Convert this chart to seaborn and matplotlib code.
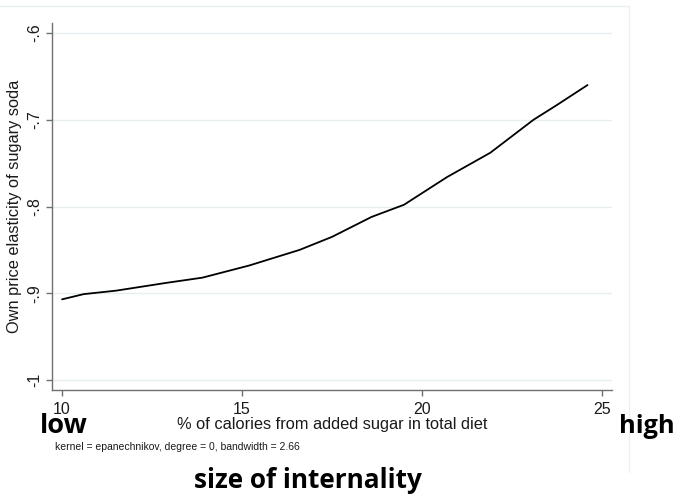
import matplotlib
matplotlib.use("Agg")
import matplotlib.pyplot as plt
from matplotlib.lines import Line2D
import seaborn as sns

# % of calories from added sugar vs. own price elasticity (lpoly fit)
sugar_pct = [10.0, 10.6, 11.5, 12.9, 13.9, 15.2, 16.6, 17.5, 18.6, 19.5, 20.7, 21.9, 23.1, 23.75, 24.6]
elasticity = [-0.907, -0.901, -0.897, -0.888, -0.882, -0.868, -0.850, -0.835, -0.812,
              -0.798, -0.766, -0.738, -0.700, -0.683, -0.660]
x_ticks = [10, 15, 20, 25]
y_ticks = [-1.0, -0.9, -0.8, -0.7, -0.6]
y_tick_labels = ["-1", "-.9", "-.8", "-.7", "-.6"]

sns.set_style("white")
plt.rcParams["font.family"] = ["Liberation Sans", "DejaVu Sans"]

W, H = 676, 495
fig = plt.figure(figsize=(W / 100, H / 100), dpi=100)
ax = fig.add_axes([52 / W, 1 - 390 / H, (612 - 52) / W, (390 - 23) / H])

sns.lineplot(x=sugar_pct, y=elasticity, ax=ax, color="black", linewidth=1.3, sort=False)

ax.set_xlim(9.72, 25.28)
ax.set_ylim(-1.0115, -0.5885)
ax.set_xticks(x_ticks)
ax.set_yticks(y_ticks)
ax.set_yticklabels(y_tick_labels, rotation=90, va="center")
for y in y_ticks:
    ax.axhline(y, color="#e6eef0", linewidth=1.0, zorder=0)

for side in ["top", "right"]:
    ax.spines[side].set_visible(False)
for side in ["left", "bottom"]:
    ax.spines[side].set_color("#707070")
    ax.spines[side].set_linewidth(1.0)
ax.tick_params(axis="x", direction="out", length=4, width=1, color="#707070",
               pad=5, labelsize=11.5, labelcolor="#1a1a1a")
ax.tick_params(axis="y", direction="out", length=4, width=1, color="#707070",
               pad=3, labelsize=11.5, labelcolor="#1a1a1a")
ax.tick_params(bottom=True, left=True)

ax.set_xlabel("% of calories from added sugar in total diet", fontsize=11.8, color="#1a1a1a")
ax.xaxis.set_label_coords(0.5, -(425 - 390) / 367)
ax.xaxis.label.set_va("center")
ax.set_ylabel("Own price elasticity of sugary soda", fontsize=11.8, color="#1a1a1a")
ax.yaxis.set_label_coords(-(52 - 15) / 560, 0.5)
ax.yaxis.label.set_va("center")

fig.text(55 / W, 1 - 447 / H, "kernel = epanechnikov, degree = 0, bandwidth = 2.66",
         fontsize=7.5, color="#1a1a1a", va="center", ha="left")

# faint frame of the graph region
frame_c = "#eaf0f0"
fig.add_artist(Line2D([0, 629 / W], [1 - 6 / H, 1 - 6 / H], color=frame_c, lw=1))
fig.add_artist(Line2D([629 / W, 629 / W], [1 - 6 / H, 1 - 472 / H], color=frame_c, lw=1))

bold = dict(fontweight="bold", family=["Open Sans", "DejaVu Sans"],
            color="black", va="baseline")
fig.text(40 / W, 1 - 433 / H, "low", ha="left", fontsize=19.5, **bold)
fig.text(619 / W, 1 - 433 / H, "high", ha="left", fontsize=18.3, **bold)
fig.text(308 / W, 1 - 488 / H, "size of internality", ha="center", fontsize=18.8, **bold)

fig.savefig("out.png", dpi=100)
